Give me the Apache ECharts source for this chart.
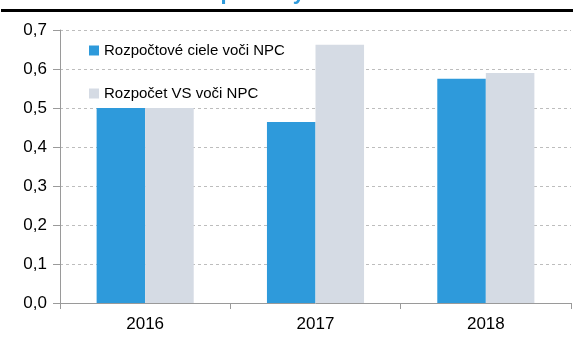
<!DOCTYPE html>
<html>
<head>
<meta charset="utf-8">
<script src="https://cdn.jsdelivr.net/npm/echarts@6/dist/echarts.min.js"></script>
<style>
  html, body { margin: 0; padding: 0; background: #fff; }
  #chart { width: 573px; height: 338px; }
</style>
</head>
<body>
<div id="chart"></div>
<script>
// Years on the category axis
const years = ['2016', '2017', '2018'];
// Budget targets relative to the national programme
const targetsVsNPC = [0.50, 0.464, 0.575];
// General government budget relative to the national programme
const budgetVsNPC = [0.50, 0.662, 0.59];
// Value axis labels
const yTicks = ['0,0', '0,1', '0,2', '0,3', '0,4', '0,5', '0,6', '0,7'];

const seriesNames = ['Rozpočtové ciele voči NPC', 'Rozpočet VS voči NPC'];
const FONT = 'Liberation Sans, Arial, sans-serif';

const chart = echarts.init(document.getElementById('chart'), null, { renderer: 'canvas' });

chart.setOption({
  animation: false,
  backgroundColor: '#ffffff',
  graphic: [
    {
      // heading sits above the frame, only its descenders reach into view
      type: 'text',
      x: 278,
      y: -18,
      style: {
        text: 'Rozpočtový rámec',
        font: 'bold 22px ' + FONT,
        fill: '#2E9ADB',
        align: 'center',
        verticalAlign: 'top'
      }
    },
    {
      type: 'rect',
      shape: { x: 1, y: 9, width: 572, height: 3 },
      style: { fill: '#000000' }
    }
  ],
  legend: {
    orient: 'vertical',
    left: 84,
    top: 38,
    itemWidth: 10,
    itemHeight: 10,
    itemGap: 28,
    icon: 'rect',
    textStyle: { fontFamily: FONT, fontSize: 15, color: '#000' },
    data: seriesNames
  },
  grid: { left: 60, right: 2, top: 30, bottom: 35, containLabel: false },
  xAxis: {
    type: 'category',
    data: years,
    axisLine: { lineStyle: { color: '#9a9a9a', width: 1 } },
    axisTick: { show: true, length: 6, lineStyle: { color: '#9a9a9a' } },
    axisLabel: { fontFamily: FONT, fontSize: 17, color: '#000', margin: 13 }
  },
  yAxis: {
    type: 'value',
    min: 0,
    max: 0.7,
    interval: 0.1,
    axisLine: { show: true, lineStyle: { color: '#9a9a9a', width: 1 } },
    axisTick: { show: true, length: 7, lineStyle: { color: '#9a9a9a' } },
    splitLine: { show: true, lineStyle: { color: '#bdbdbd', type: [3, 3], width: 1 } },
    axisLabel: {
      fontFamily: FONT, fontSize: 17, color: '#000', margin: 13,
      formatter: (v) => yTicks[Math.round(v * 10)]
    }
  },
  series: [
    {
      name: seriesNames[0],
      type: 'bar',
      data: targetsVsNPC,
      itemStyle: { color: '#2E9ADB' },
      barGap: '0%',
      barCategoryGap: '43%'
    },
    {
      name: seriesNames[1],
      type: 'bar',
      data: budgetVsNPC,
      itemStyle: { color: '#D5DBE4' },
      barGap: '0%',
      barCategoryGap: '43%'
    }
  ]
});
</script>
</body>
</html>
